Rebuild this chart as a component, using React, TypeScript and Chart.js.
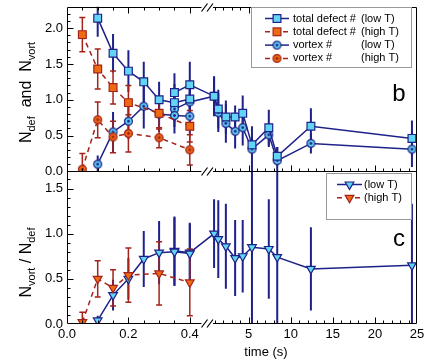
import React, { useEffect, useRef } from 'react';
import { Chart, registerables } from 'chart.js';

Chart.register(...registerables);

// ---------- data (time in seconds) ----------
const tHigh = [0.05, 0.1, 0.15, 0.2, 0.3, 0.4];
const tLowShort = [0.1, 0.15, 0.2, 0.25, 0.3, 0.35, 0.4];
const tLowLong = [0.35, 0.4, 0.9, 1.4, 2.3, 3.4, 4.3, 5.4, 7.4, 8.4, 12.4, 24.4];

// panel b : total defect number and vortex number
const defHigh = [1.91, 1.43, 1.17, 0.96, 0.81, 0.63];
const defHighErr = [0.24, 0.28, 0.23, 0.24, 0.22, 0.22];
const vortHigh = [0.03, 0.72, 0.48, 0.53, 0.47, 0.3];
const vortHighErr = [0.22, 0.25, 0.22, 0.26, 0.14, 0.21];

const defLowShort = [2.14, 1.65, 1.4, 1.25, 1.0, 0.96, 1.01];
const defLowShortErr = [0.26, 0.27, 0.29, 0.28, 0.25, 0.26, 0.27];
const vortLowShort = [0.1, 0.55, 0.7, 0.91, 0.8, 0.78, 0.77];
const vortLowShortErr = [0.12, 0.28, 0.25, 0.31, 0.25, 0.25, 0.25];

const defLowLong = [1.1, 1.21, 1.05, 0.87, 0.76, 0.76, 0.81, 0.37, 0.61, 0.21, 0.63, 0.46];
const defLowLongErr = [0.27, 0.32, 0.28, 0.27, 0.23, 0.16, 0.25, 0.12, 0.25, 0.13, 0.25, 0.25];
const vortLowLong = [0.87, 0.97, 1.05, 0.82, 0.67, 0.56, 0.61, 0.31, 0.51, 0.15, 0.39, 0.31];
const vortLowLongErr = [0.25, 0.25, 0.27, 0.27, 0.27, 0.24, 0.25, 0.32, 0.17, 0.19, 0.14, 0.25];

// panel c : ratio N_vort / N_def
const ratioHigh = [0.02, 0.5, 0.4, 0.54, 0.56, 0.46];
const ratioHighErr = [0.11, 0.2, 0.2, 0.3, 0.35, 0.37];
const ratioLowShort = [0.04, 0.32, 0.5, 0.72, 0.79, 0.8, 0.78];
const ratioLowShortErr = [0.05, 0.17, 0.23, 0.31, 0.35, 0.38, 0.33];
const ratioLowLong = [0.81, 0.79, 1.0, 0.94, 0.86, 0.73, 0.75, 0.85, 0.83, 0.74, 0.61, 0.65];
const ratioLowLongErr = [0.38, 0.33, 0.38, 0.43, 0.47, 0.42, 0.4, 2.0, 0.55, 2.0, 0.46, 0.68];

// ticks
const xTicksLeft = [0, 0.2, 0.4];
const xTicksRight = [5, 10, 15, 20, 25];
const yTicksB = [0, 0.5, 1.0, 1.5, 2.0];
const yTicksC = [0, 0.5, 1.0, 1.5];

const legendB = [
  ['total defect #', '(low T)'],
  ['total defect #', '(high T)'],
  ['vortex #', '(low T)'],
  ['vortex #', '(high T)'],
];
const legendC = ['(low T)', '(high T)'];

// ---------- broken time axis ----------
const BREAK_T = 0.46;
function tv(t: number) {
  return t <= BREAK_T ? t * 307 : 181.6 + (t - 5) * 8.42;
}
const X_MAX = tv(25);

const FONT = '"Liberation Sans", Arial, Helvetica, sans-serif';
const NAVY = '#1e2288';
const CYAN = '#62d4f4';
const ORANGE = '#ee6a12';
const DARKRED = '#a3231a';

function makeDot(fill: string, stroke: string) {
  const c = document.createElement('canvas');
  c.width = 11;
  c.height = 11;
  const g = c.getContext('2d')!;
  g.beginPath();
  g.arc(5.5, 5.5, 3.9, 0, Math.PI * 2);
  g.fillStyle = fill;
  g.fill();
  g.lineWidth = 1.3;
  g.strokeStyle = stroke;
  g.stroke();
  g.beginPath();
  g.arc(5.5, 5.5, 1.4, 0, Math.PI * 2);
  g.fillStyle = stroke;
  g.fill();
  return c;
}

function pts(t: number[], v: number[]) {
  return t.map((tt, i) => ({ x: tv(tt), y: v[i] }));
}

export default function App() {
  const ref = useRef<HTMLCanvasElement>(null);

  useEffect(() => {
    const canvas = ref.current!;
    const dotLow = makeDot(CYAN, NAVY);
    const dotHigh = makeDot(ORANGE, DARKRED);

    const lowLine = { borderColor: NAVY, borderWidth: 1.5, pointBorderColor: NAVY, pointBackgroundColor: CYAN, pointBorderWidth: 1.2 };
    const highLine = { borderColor: DARKRED, borderWidth: 1.5, borderDash: [5, 4], pointBorderColor: DARKRED, pointBackgroundColor: ORANGE, pointBorderWidth: 1.2 };
    const sq = { pointStyle: 'rect', pointRadius: 5.5 };
    const tri = { pointStyle: 'triangle', pointRadius: 5, pointRotation: 180 };

    const datasets: any[] = [
      { ...highLine, ...sq, yAxisID: 'yb', data: pts(tHigh, defHigh) },
      { ...highLine, pointStyle: dotHigh, pointRadius: 5, yAxisID: 'yb', data: pts(tHigh, vortHigh) },
      { ...highLine, ...tri, yAxisID: 'yc', data: pts(tHigh, ratioHigh) },
      { ...lowLine, ...sq, yAxisID: 'yb', data: pts(tLowShort, defLowShort) },
      { ...lowLine, ...sq, yAxisID: 'yb', data: pts(tLowLong, defLowLong) },
      { ...lowLine, pointStyle: dotLow, pointRadius: 5, yAxisID: 'yb', data: pts(tLowShort, vortLowShort) },
      { ...lowLine, pointStyle: dotLow, pointRadius: 5, yAxisID: 'yb', data: pts(tLowLong, vortLowLong) },
      { ...lowLine, ...tri, yAxisID: 'yc', data: pts(tLowShort, ratioLowShort) },
      { ...lowLine, ...tri, yAxisID: 'yc', data: pts(tLowLong, ratioLowLong) },
    ];

    const errSeries = [
      { t: tLowShort, v: defLowShort, e: defLowShortErr, ax: 'yb', low: true },
      { t: tLowLong, v: defLowLong, e: defLowLongErr, ax: 'yb', low: true },
      { t: tLowShort, v: vortLowShort, e: vortLowShortErr, ax: 'yb', low: true },
      { t: tLowLong, v: vortLowLong, e: vortLowLongErr, ax: 'yb', low: true },
      { t: tLowShort, v: ratioLowShort, e: ratioLowShortErr, ax: 'yc', low: true },
      { t: tLowLong, v: ratioLowLong, e: ratioLowLongErr, ax: 'yc', low: true },
      { t: tHigh, v: defHigh, e: defHighErr, ax: 'yb', low: false },
      { t: tHigh, v: vortHigh, e: vortHighErr, ax: 'yb', low: false },
      { t: tHigh, v: ratioHigh, e: ratioHighErr, ax: 'yc', low: false },
    ];

    const xTickVals = [...xTicksLeft.map(tv), ...xTicksRight.map(tv)];
    const xTickLabels = [...xTicksLeft.map((v) => v.toFixed(1)), ...xTicksRight.map((v) => String(v))];

    const drawSquare = (ctx: CanvasRenderingContext2D, x: number, y: number, fill: string, stroke: string) => {
      const s = 7.8;
      ctx.fillStyle = fill;
      ctx.strokeStyle = stroke;
      ctx.lineWidth = 1.2;
      ctx.fillRect(x - s / 2, y - s / 2, s, s);
      ctx.strokeRect(x - s / 2, y - s / 2, s, s);
    };
    const drawTri = (ctx: CanvasRenderingContext2D, x: number, y: number, fill: string, stroke: string) => {
      const r = 5;
      ctx.beginPath();
      ctx.moveTo(x, y + r);
      ctx.lineTo(x - r * 0.866, y - r / 2);
      ctx.lineTo(x + r * 0.866, y - r / 2);
      ctx.closePath();
      ctx.fillStyle = fill;
      ctx.strokeStyle = stroke;
      ctx.lineWidth = 1.2;
      ctx.fill();
      ctx.stroke();
    };
    const legendLine = (ctx: CanvasRenderingContext2D, x0: number, x1: number, y: number, low: boolean) => {
      ctx.save();
      ctx.strokeStyle = low ? NAVY : DARKRED;
      ctx.lineWidth = 1.5;
      if (!low) ctx.setLineDash([5, 4]);
      ctx.beginPath();
      ctx.moveTo(x0, y);
      ctx.lineTo(x1, y);
      ctx.stroke();
      ctx.restore();
    };

    const vTitle = (ctx: CanvasRenderingContext2D, cx: number, cy: number, parts: [string, boolean][]) => {
      ctx.save();
      ctx.translate(cx, cy);
      ctx.rotate(-Math.PI / 2);
      ctx.fillStyle = '#000';
      ctx.textBaseline = 'alphabetic';
      ctx.textAlign = 'left';
      const big = `16px ${FONT}`;
      const small = `11px ${FONT}`;
      let total = 0;
      const ws = parts.map(([s, sub]) => {
        ctx.font = sub ? small : big;
        const w = ctx.measureText(s).width;
        total += w;
        return w;
      });
      let x = -total / 2;
      parts.forEach(([s, sub], i) => {
        ctx.font = sub ? small : big;
        ctx.fillText(s, x, sub ? 3.5 : 0);
        x += ws[i];
      });
      ctx.restore();
    };

    const decor = {
      id: 'decor',
      beforeDatasetsDraw(chart: any) {
        const { ctx, chartArea: a } = chart;
        const xs = chart.scales.x;
        for (const s of errSeries) {
          const ys = chart.scales[s.ax];
          ctx.save();
          ctx.beginPath();
          ctx.rect(a.left, ys.top, a.right - a.left, ys.bottom - ys.top);
          ctx.clip();
          ctx.strokeStyle = s.low ? NAVY : DARKRED;
          ctx.lineWidth = s.low ? 2 : 1.5;
          ctx.beginPath();
          s.t.forEach((t: number, i: number) => {
            const px = xs.getPixelForValue(tv(t));
            const y1 = ys.getPixelForValue(s.v[i] + s.e[i]);
            const y2 = ys.getPixelForValue(s.v[i] - s.e[i]);
            ctx.moveTo(px, y1);
            ctx.lineTo(px, y2);
            if (!s.low) {
              ctx.moveTo(px - 3, y1);
              ctx.lineTo(px + 3, y1);
              ctx.moveTo(px - 3, y2);
              ctx.lineTo(px + 3, y2);
            }
          });
          ctx.stroke();
          ctx.restore();
        }
      },
      afterDatasetsDraw(chart: any) {
        const { ctx, chartArea: a } = chart;
        const xs = chart.scales.x;
        const yb = chart.scales.yb;
        const yc = chart.scales.yc;
        const L = Math.round(a.left) + 0.5;
        const R = Math.round(a.right) - 0.5;
        const gapL = xs.getPixelForValue(134.5);
        const gapR = xs.getPixelForValue(146);
        const slashes = [xs.getPixelForValue(137.5), xs.getPixelForValue(143)];
        ctx.save();
        ctx.strokeStyle = '#000';
        ctx.lineWidth = 1;
        const hLines = [Math.round(yb.top) + 0.5, Math.round(yb.bottom) + 0.5, Math.round(yc.bottom) - 0.5];
        ctx.beginPath();
        for (const y of hLines) {
          ctx.moveTo(L, y);
          ctx.lineTo(gapL, y);
          ctx.moveTo(gapR, y);
          ctx.lineTo(R, y);
        }
        ctx.moveTo(L, hLines[0]);
        ctx.lineTo(L, hLines[2]);
        ctx.moveTo(R, hLines[0]);
        ctx.lineTo(R, hLines[2]);
        ctx.stroke();
        // break marks
        ctx.lineWidth = 1.2;
        ctx.beginPath();
        for (const y of hLines) {
          for (const sx of slashes) {
            ctx.moveTo(sx - 3, y + 4);
            ctx.lineTo(sx + 3, y - 4);
          }
        }
        ctx.stroke();

        // x ticks (inward)
        ctx.lineWidth = 1;
        const xt: [number, boolean][] = [];
        for (let k = 1; k <= 9; k++) xt.push([tv(k * 0.05), k % 4 === 0]);
        for (let k = 1; k <= 24; k++) xt.push([tv(k), k % 5 === 0]);
        ctx.beginPath();
        for (const [v, major] of xt) {
          if (v > 133 && v < 147) continue;
          const px = Math.round(xs.getPixelForValue(v)) + 0.5;
          const len = major ? 6 : 3;
          ctx.moveTo(px, hLines[0]);
          ctx.lineTo(px, hLines[0] + len);
          ctx.moveTo(px, hLines[1]);
          ctx.lineTo(px, hLines[1] - len);
          ctx.moveTo(px, hLines[2]);
          ctx.lineTo(px, hLines[2] - len);
        }
        // y ticks (inward, left)
        for (let k = 1; k <= 22; k++) {
          const py = Math.round(yb.getPixelForValue(k * 0.1)) + 0.5;
          ctx.moveTo(L, py);
          ctx.lineTo(L + (k % 5 === 0 ? 6 : 3), py);
        }
        for (let k = 1; k <= 16; k++) {
          const py = Math.round(yc.getPixelForValue(k * 0.1)) + 0.5;
          ctx.moveTo(L, py);
          ctx.lineTo(L + (k % 5 === 0 ? 6 : 3), py);
        }
        ctx.stroke();

        // legend panel b
        ctx.fillStyle = '#fff';
        ctx.fillRect(251.5, 7.5, 160, 60);
        ctx.strokeStyle = '#999';
        ctx.strokeRect(251.5, 7.5, 160, 60);
        ctx.font = `11px ${FONT}`;
        ctx.textBaseline = 'middle';
        ctx.textAlign = 'left';
        legendB.forEach(([a1, a2], i) => {
          const y = 18.5 + i * 13.3;
          const low = i % 2 === 0;
          legendLine(ctx, 265, 289, y, low);
          if (i < 2) drawSquare(ctx, 277, y, low ? CYAN : ORANGE, low ? NAVY : DARKRED);
          else ctx.drawImage(low ? dotLow : dotHigh, 277 - 5.5, y - 5.5);
          ctx.fillStyle = '#000';
          ctx.fillText(a1, 293, y);
          ctx.fillText(a2, 361, y);
        });

        // legend panel c
        ctx.fillStyle = '#fff';
        ctx.fillRect(326.5, 173.5, 85, 46);
        ctx.strokeStyle = '#999';
        ctx.lineWidth = 1;
        ctx.strokeRect(326.5, 173.5, 85, 46);
        legendC.forEach((s, i) => {
          const y = 184.5 + i * 13.3;
          const low = i === 0;
          legendLine(ctx, 337, 362, y, low);
          drawTri(ctx, 349.5, y, low ? CYAN : ORANGE, low ? NAVY : DARKRED);
          ctx.fillStyle = '#000';
          ctx.font = `11px ${FONT}`;
          ctx.textBaseline = 'middle';
          ctx.fillText(s, 364, y);
        });

        // panel letters
        ctx.fillStyle = '#000';
        ctx.font = `24px ${FONT}`;
        ctx.textAlign = 'center';
        ctx.textBaseline = 'alphabetic';
        ctx.fillText('b', 399, 100.5);
        ctx.fillText('c', 399, 246);

        // axis titles
        ctx.font = `13px ${FONT}`;
        ctx.textBaseline = 'middle';
        ctx.fillText('time (s)', 266, 352);
        vTitle(ctx, 31, 92.5, [['N', false], ['def', true], ['  and  ', false], ['N', false], ['vort', true]]);
        vTitle(ctx, 31, 262.5, [['N', false], ['vort', true], [' / ', false], ['N', false], ['def', true]]);
        ctx.restore();
      },
    };

    const tickFont = { family: FONT, size: 13 };
    const yCommon = (ticksArr: number[], max: number, weight: number, sw: number) => ({
      type: 'linear',
      position: 'left',
      stack: 'panels',
      stackWeight: sw,
      weight,
      min: 0,
      max,
      grid: { display: false, drawTicks: false },
      border: { display: false },
      afterBuildTicks: (s: any) => {
        s.ticks = ticksArr.map((v) => ({ value: v }));
      },
      afterFit: (s: any) => {
        s.width = 67;
        s.paddingTop = 0;
        s.paddingBottom = 0;
      },
      ticks: { color: '#000', font: tickFont, padding: 4, callback: (v: any) => Number(v).toFixed(1) },
    });

    const chart = new Chart(canvas, {
      type: 'line',
      data: { datasets },
      options: {
        responsive: false,
        animation: false,
        devicePixelRatio: 1,
        events: [],
        layout: { padding: { left: 0, right: 19, top: 6, bottom: 0 } },
        plugins: { legend: { display: false }, tooltip: { enabled: false } },
        scales: {
          x: {
            type: 'linear',
            position: 'bottom',
            min: 0,
            max: X_MAX,
            grid: { display: false, drawTicks: false },
            border: { display: false },
            afterBuildTicks: (s: any) => {
              s.ticks = xTickVals.map((v) => ({ value: v }));
            },
            afterFit: (s: any) => {
              s.height = 35;
              s.paddingLeft = 0;
              s.paddingRight = 0;
            },
            ticks: {
              color: '#000',
              font: tickFont,
              padding: 3,
              autoSkip: false,
              maxRotation: 0,
              minRotation: 0,
              callback: (_v: any, i: number) => xTickLabels[i],
            },
          },
          yb: yCommon(yTicksB, 2.3, 2, 165),
          yc: yCommon(yTicksC, 1.69, 1, 153),
        } as any,
      },
      plugins: [decor],
    } as any);
    return () => chart.destroy();
  }, []);

  return (
    <div style={{ position: 'fixed', left: 0, top: 0, width: 436, height: 359, background: '#fff' }}>
      <canvas ref={ref} width={436} height={359} style={{ display: 'block', width: 436, height: 359 }} />
    </div>
  );
}
